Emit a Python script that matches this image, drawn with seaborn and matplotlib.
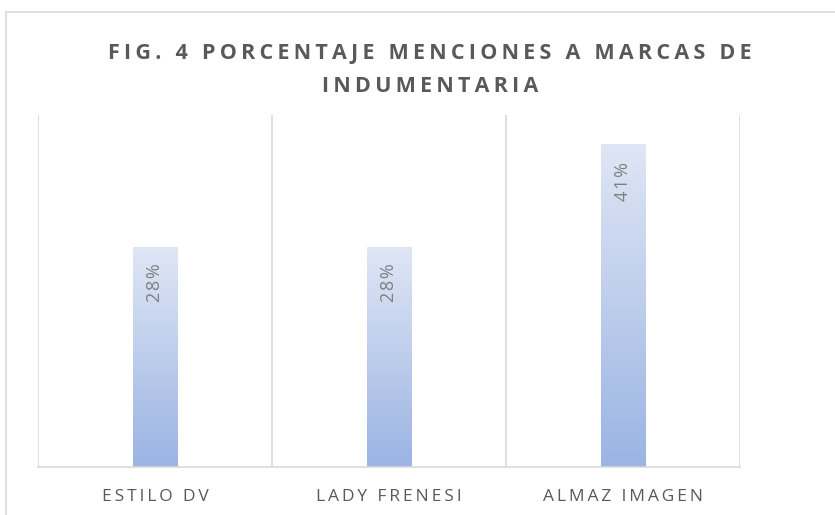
import matplotlib
matplotlib.use("Agg")
import matplotlib.pyplot as plt
import seaborn as sns
import numpy as np
import pandas as pd
from matplotlib.patches import Rectangle
from matplotlib.colors import LinearSegmentedColormap

categories = ["ESTILO DV", "LADY FRENESI", "ALMAZ IMAGEN"]
values = [28, 28, 41]
value_labels = ["28%", "28%", "41%"]
title_text = "FIG. 4 PORCENTAJE MENCIONES A MARCAS DE\nINDUMENTARIA"

sns.set_theme(style="white")
plt.rcParams['font.family'] = ['Open Sans', 'DejaVu Sans']

def spaced(s, sep="\u200a"):
    return "\n".join(sep.join(list(line)) for line in s.split("\n"))

fig = plt.figure(figsize=(8.35, 5.15), dpi=100)
fig.patches.append(Rectangle((6/835, -0.1), 1.2, (515-12)/515 + 0.1,
                             transform=fig.transFigure, fill=False,
                             edgecolor="#d9d9d9", linewidth=1.2))
ax = fig.add_axes([38/835, (515-467)/515, (740-38)/835, (467-115)/515])

df = pd.DataFrame({"cat": categories, "val": values})
sns.barplot(data=df, x="cat", y="val", width=0.19, ax=ax, color="#9bb4e3")

cmap = LinearSegmentedColormap.from_list("g", ["#9bb4e3", "#dfe6f5"])
grad = np.linspace(0, 1, 256).reshape(-1, 1)
for p in ax.patches:
    x0, y0 = p.get_x(), p.get_y()
    w, h = p.get_width(), p.get_height()
    ax.imshow(grad, extent=[x0, x0 + w, y0, y0 + h], origin="lower",
              cmap=cmap, aspect="auto", zorder=2)
    p.set_visible(False)

for i, (v, lab) in enumerate(zip(values, value_labels)):
    ax.annotate(spaced(lab), (i, v), xytext=(0, -12), textcoords="offset points",
                rotation=90, ha="center", va="top", fontsize=13, color="#7f7f7f",
                zorder=3)

ax.set_xlim(-0.5, 2.5)
ax.set_ylim(0, 44.8)
ax.set_xlabel("")
ax.set_ylabel("")
ax.set_yticks([])
ax.set_xticks(range(len(categories)))
ax.set_xticklabels([spaced(c, "\u2009") for c in categories], fontsize=12.5, color="#595959")
ax.tick_params(axis="x", length=0, pad=16)
ax.set_xticks([-0.5, 0.5, 1.5, 2.5], minor=True)
ax.tick_params(axis="x", which="minor", length=0)
ax.grid(True, which="minor", axis="x", color="#d9d9d9", linewidth=1.2)
ax.grid(False, which="major")
for s in ["top", "left", "right"]:
    ax.spines[s].set_visible(False)
ax.spines["bottom"].set_color("#d9d9d9")
ax.spines["bottom"].set_linewidth(1.2)

fig.text(430/835, 1 - 70/515, spaced(title_text, "\u2009"), ha="center", va="center",
         fontsize=15.5, fontweight="bold", color="#595959", linespacing=1.8)

fig.savefig("out.png", dpi=100)
